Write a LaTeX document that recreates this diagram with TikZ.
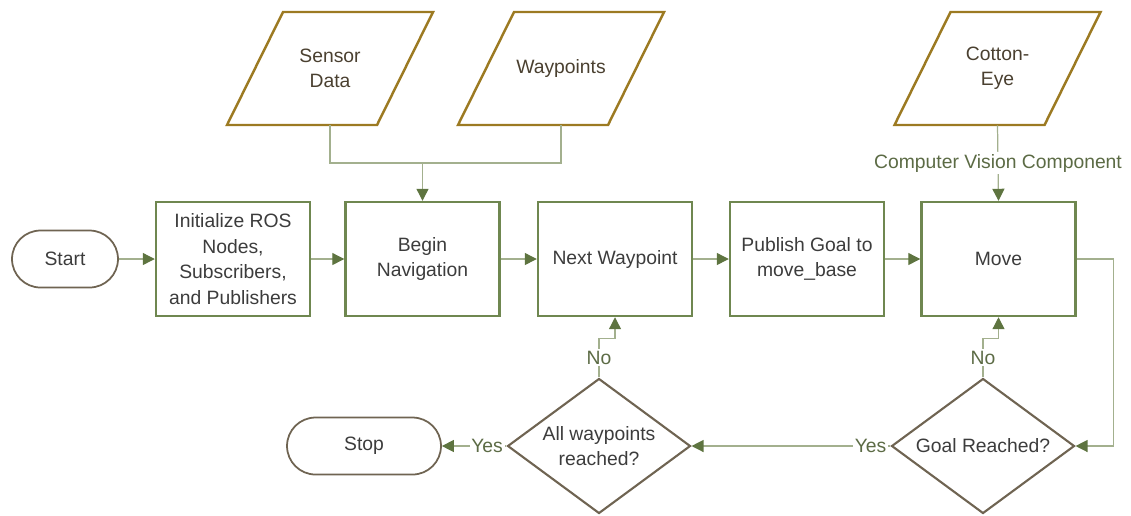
\documentclass[tikz,border=0pt]{standalone}
\usepackage{fontspec}
\setmainfont{Liberation Sans}
\usetikzlibrary{shapes.geometric,arrows.meta}
\definecolor{boxc}{HTML}{6F8750}
\definecolor{linec}{HTML}{A3B08E}
\definecolor{tipc}{HTML}{5E7440}
\definecolor{paral}{HTML}{9C7A22}
\definecolor{brownc}{HTML}{6F6452}
\definecolor{txt}{HTML}{3C3C3C}
\definecolor{ptxt}{HTML}{4A4030}
\definecolor{lbl}{HTML}{5C6B45}
\tikzset{
  proc/.style={draw=boxc, line width=1.4pt, minimum width=3.08cm, minimum height=2.28cm, align=center, text=txt},
  term/.style={draw=brownc, line width=1pt, minimum height=1.14cm, rounded corners=0.57cm, align=center, text=txt},
  dec/.style={draw=brownc, line width=1.2pt, shape=diamond, minimum width=3.66cm, minimum height=2.7cm, inner sep=0pt},
  dectext/.style={align=center, text=txt},
  inp/.style={minimum width=2cm, minimum height=2.26cm, inner sep=0pt, align=center, text=ptxt},
  parpath/.style={draw=paral, line width=1.4pt, line join=miter},
  conn/.style={draw=linec, line width=0.7pt},
  arr/.style={conn, -{Triangle[length=0.24cm,width=0.24cm,color=tipc]}},
  lab/.style={fill=white, text=lbl, inner sep=1pt}
}
\begin{document}
\begin{tikzpicture}[x=0.02cm,y=-0.02cm, font=\fontsize{11}{14.5}\selectfont]
\useasboundingbox (0,0) rectangle (1131,515);
\node[term, minimum width=2.12cm] (start) at (65,259) {Start};
\node[proc] (init) at (233,259) {Initialize ROS\\Nodes,\\Subscribers,\\and Publishers};
\node[proc] (begin) at (422.5,259) {Begin\\Navigation};
\node[proc] (next) at (615,259) {Next Waypoint};
\node[proc] (pub) at (807,259) {Publish Goal to\\move\_base};
\node[proc] (move) at (998.5,259) {Move};
\node[term, minimum width=3.08cm] (stop) at (364,446) {Stop};
\node[dec, label={[dectext]center:{All waypoints\\reached?}}] (allw) at (599,446) {};
\node[dec, label={[dectext]center:{Goal Reached?}}] (goal) at (983,446) {};
\node[inp] (sensor) at (330,68.5) {Sensor\\Data};
\node[inp] (way) at (561,68.5) {Waypoints};
\node[inp] (cotton) at (997.5,68.5) {Cotton-\\Eye};
\foreach \n in {sensor,way,cotton}
  \draw[parpath, shift={(\n.center)}] (-103,56.5) -- (47,56.5) -- (103,-56.5) -- (-47,-56.5) -- cycle;
\coordinate (j) at (422.5,163);

\draw[conn] (sensor.south) |- (j) -| (way.south);
\draw[arr] (j) -- (begin);
\draw[arr] (cotton.south) -- node[lab]{Computer Vision Component} (move.north);
\draw[arr] (start) -- (init);
\draw[arr] (init) -- (begin);
\draw[arr] (begin) -- (next);
\draw[arr] (next) -- (pub);
\draw[arr] (pub) -- (move);
\draw[arr] (move.east) -- ++(37,0) |- (goal.east);
\draw[arr] (goal.north) -- node[lab]{No} ++(0,-39) -| (move.south);
\draw[arr] (allw.north) -- node[lab]{No} ++(0,-39) -| (next.south);
\draw[arr] (goal.west) -- node[lab, pos=0.1]{Yes} (allw.east);
\draw[arr] (allw.west) -- node[lab, pos=0.3]{Yes} (stop.east);
\end{tikzpicture}
\end{document}
